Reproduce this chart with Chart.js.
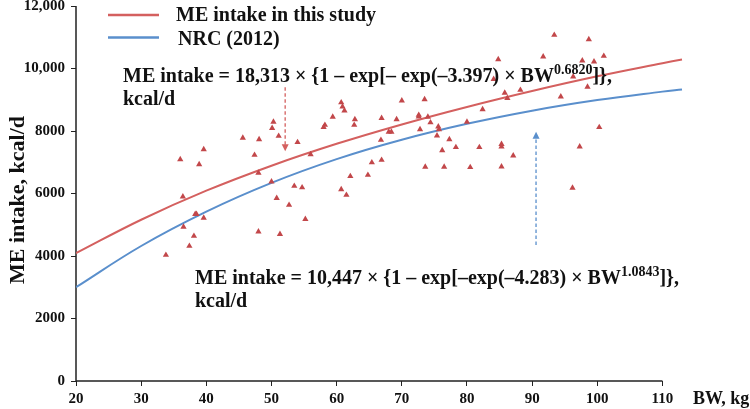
<!DOCTYPE html>
<html>
<head>
<meta charset="utf-8">
<script src="https://cdn.jsdelivr.net/npm/chart.js@4.4.1/dist/chart.umd.min.js"></script>
<style>
  html, body { margin: 0; padding: 0; background: #fff; }
  #wrap { width: 750px; height: 409px; }
</style>
</head>
<body>
<div id="wrap"><canvas id="chart" width="750" height="409"></canvas></div>
<script>
// fitted curves
var curveBW = [20, 30, 40, 50, 60, 70, 80, 90, 100, 110, 113];
var meStudy = [4090, 5160, 6090, 6890, 7590, 8210, 8770, 9280, 9750, 10170, 10290];
var meNRC = [3000, 4320, 5420, 6340, 7100, 7720, 8230, 8650, 8990, 9260, 9330];

// observed points (BW, kg / ME intake, kcal/d)
var obsBW = [33.8, 36.5, 38.1, 37.4, 38.3, 38.5, 39.6, 36.0, 39.6, 38.9, 36.4, 45.6, 47.4, 48.0, 48.0,
  48.1, 50.3, 50.1, 51.1, 54.0, 56.0, 50.0, 50.8, 52.7, 53.5, 54.7, 55.2, 51.3, 60.7, 60.9,
  61.2, 59.4, 62.8, 62.7, 58.2, 58.0, 62.1, 60.7, 61.5, 70.0, 73.5, 66.9, 69.2, 72.6, 72.6,
  74.0, 74.4, 72.8, 75.6, 75.7, 68.0, 68.4, 75.4, 66.8, 77.3, 80.0, 76.2, 78.3, 65.4, 66.9,
  64.8, 73.6, 76.5, 80.5, 93.4, 84.8, 91.7, 84.1, 85.8, 88.2, 86.2, 82.4, 94.4, 96.3, 81.9,
  85.3, 85.3, 87.1, 85.3, 96.2, 98.7, 97.7, 99.5, 101.0, 98.5, 100.3, 97.3];
var obsME = [4030, 4930, 4640, 4320, 5340, 5340, 5220, 7090, 7410, 6930, 5900, 7780, 7230, 6660, 4780,
  7730, 8290, 8090, 7840, 7640, 7250, 6380, 5850, 5630, 6240, 6190, 5180, 4700, 8910, 8780,
  8650, 8450, 8370, 8190, 8190, 8120, 6550, 6130, 5950, 8970, 9010, 8410, 8370, 8510, 8460,
  8450, 8270, 8050, 8140, 8050, 7970, 7970, 7850, 7710, 7730, 8290, 7380, 7480, 6990, 7070,
  6590, 6850, 6850, 6840, 11070, 10290, 10380, 9660, 9220, 9310, 9050, 8690, 9100, 9740, 7480,
  7580, 7500, 7210, 6860, 6180, 10930, 10250, 10220, 10400, 9410, 8120, 7500];

var yTickValues = [0, 2000, 4000, 6000, 8000, 10000, 12000];
var yTickLabels = ['0', '2000', '4000', '6000', '8000', '10,000', '12,000'];

var RED = '#D4605F', BLUE = '#5A8FCC', MARK = '#C2474A';
var SERIF = "'Liberation Serif', 'Times New Roman', serif";

function pairs(xs, ys) {
  return xs.map(function (x, i) { return { x: x, y: ys[i] }; });
}

function drawArrow(ctx, x, y0, y1, color) {
  // dashed shaft from y0 to y1, head at y1
  var dir = y1 > y0 ? 1 : -1;
  ctx.save();
  ctx.strokeStyle = color;
  ctx.fillStyle = color;
  ctx.lineWidth = 1.3;
  ctx.setLineDash([3.5, 2.5]);
  ctx.beginPath();
  ctx.moveTo(x, y0);
  ctx.lineTo(x, y1 - dir * 4);
  ctx.stroke();
  ctx.setLineDash([]);
  ctx.beginPath();
  ctx.moveTo(x, y1);
  ctx.lineTo(x - 3.5, y1 - dir * 7);
  ctx.lineTo(x + 3.5, y1 - dir * 7);
  ctx.closePath();
  ctx.fill();
  ctx.restore();
}

function drawEq(ctx, x, y, main, sup, tail) {
  ctx.font = 'bold 20px ' + SERIF;
  ctx.fillText(main, x, y);
  var w = ctx.measureText(main).width;
  ctx.font = 'bold 14px ' + SERIF;
  ctx.fillText(sup, x + w, y - 8);
  var w2 = ctx.measureText(sup).width;
  ctx.font = 'bold 20px ' + SERIF;
  ctx.fillText(tail, x + w + w2, y);
}

var extras = {
  id: 'extras',
  beforeDatasetsDraw: function (chart) {
    var ctx = chart.ctx, xs = chart.scales.x, ys = chart.scales.y;
    ctx.save();
    ctx.strokeStyle = '#222';
    ctx.lineWidth = 1.5;
    ctx.beginPath();
    ctx.moveTo(xs.getPixelForValue(20), ys.getPixelForValue(12000));
    ctx.lineTo(xs.getPixelForValue(20), ys.getPixelForValue(0));
    ctx.lineTo(xs.getPixelForValue(110), ys.getPixelForValue(0));
    ctx.stroke();
    ctx.restore();
  },
  afterDraw: function (chart) {
    var ctx = chart.ctx, xs = chart.scales.x, ys = chart.scales.y;
    ctx.save();
    ctx.fillStyle = '#111';
    ctx.textBaseline = 'alphabetic';
    ctx.textAlign = 'left';

    // legend
    ctx.lineWidth = 2.5;
    ctx.strokeStyle = RED;
    ctx.beginPath(); ctx.moveTo(108, 15); ctx.lineTo(159, 15); ctx.stroke();
    ctx.strokeStyle = BLUE;
    ctx.beginPath(); ctx.moveTo(108, 37.5); ctx.lineTo(159, 37.5); ctx.stroke();
    ctx.font = 'bold 20px ' + SERIF;
    ctx.fillText('ME intake in this study', 176, 21);
    ctx.fillText('NRC (2012)', 178, 44.5);

    // equations
    drawEq(ctx, 123, 82, 'ME intake = 18,313 \u00d7 {1 \u2013 exp[\u2013 exp(\u20133.397) \u00d7 BW', '0.6820', ']},');
    ctx.fillText('kcal/d', 123, 104.5);
    drawEq(ctx, 195, 283.5, 'ME intake = 10,447 \u00d7 {1 \u2013 exp[\u2013exp(\u20134.283) \u00d7 BW', '1.0843', ']},');
    ctx.fillText('kcal/d', 195, 306.5);

    // arrows pointing at the curves
    drawArrow(ctx, xs.getPixelForValue(52.1), ys.getPixelForValue(9400), ys.getPixelForValue(7350), RED);
    drawArrow(ctx, xs.getPixelForValue(90.6), ys.getPixelForValue(4350), ys.getPixelForValue(7980), BLUE);

    // axis titles
    ctx.font = 'bold 18px ' + SERIF;
    ctx.fillText('BW, kg', 693, 404);
    ctx.translate(24, 200);
    ctx.rotate(-Math.PI / 2);
    ctx.textAlign = 'center';
    ctx.font = 'bold 22px ' + SERIF;
    ctx.fillText('ME intake, kcal/d', 0, 0);
    ctx.restore();
  }
};

var tickFont = { family: SERIF, size: 15, weight: 'bold', lineHeight: 1 };

new Chart(document.getElementById('chart').getContext('2d'), {
  type: 'scatter',
  data: {
    datasets: [{
      label: 'Observed',
      data: pairs(obsBW, obsME),
      pointStyle: 'triangle',
      pointRadius: 3.6,
      pointBackgroundColor: MARK,
      pointBorderColor: MARK,
      pointBorderWidth: 0
    }, {
      type: 'line',
      label: 'ME intake in this study',
      data: pairs(curveBW, meStudy),
      borderColor: RED,
      borderWidth: 2,
      pointRadius: 0,
      tension: 0.4,
      fill: false
    }, {
      type: 'line',
      label: 'NRC (2012)',
      data: pairs(curveBW, meNRC),
      borderColor: BLUE,
      borderWidth: 2,
      pointRadius: 0,
      tension: 0.4,
      fill: false
    }]
  },
  options: {
    responsive: false,
    animation: false,
    layout: { padding: { top: 6, right: 66.7, bottom: 0, left: 0 } },
    plugins: { legend: { display: false }, tooltip: { enabled: false } },
    scales: {
      x: {
        type: 'linear',
        min: 20,
        max: 113.2,
        border: { display: false },
        grid: { drawOnChartArea: false, drawTicks: true, tickLength: 5, color: '#222', lineWidth: 1 },
        ticks: { stepSize: 10, includeBounds: false, color: '#111', font: tickFont, padding: 6, maxRotation: 0 },
        afterFit: function (s) { s.height = 28; s.paddingLeft = 0; s.paddingRight = 0; }
      },
      y: {
        min: 0,
        max: 12000,
        border: { display: false },
        grid: { drawOnChartArea: false, drawTicks: true, tickLength: 5, color: '#222', lineWidth: 1 },
        ticks: {
          stepSize: 2000, color: '#111', font: tickFont, padding: 6,
          callback: function (v) { return yTickLabels[yTickValues.indexOf(v)]; }
        },
        afterFit: function (s) { s.width = 76; s.paddingTop = 0; s.paddingBottom = 0; }
      }
    }
  },
  plugins: [extras]
});
</script>
</body>
</html>
